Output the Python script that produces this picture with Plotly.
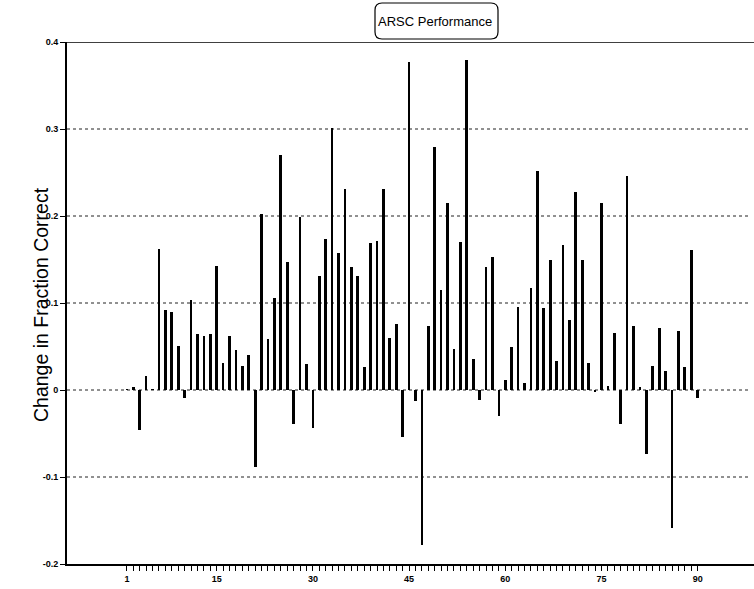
import plotly.graph_objects as go

questions = list(range(1, 91))
change = [
    0.001, 0.003, -0.046, 0.016, 0.001, 0.162, 0.092, 0.090, 0.051, -0.009,
    0.103, 0.064, 0.062, 0.064, 0.143, 0.031, 0.062, 0.046, 0.028, 0.040,
    -0.088, 0.202, 0.059, 0.106, 0.270, 0.147, -0.039, 0.199, 0.030, -0.044,
    0.131, 0.173, 0.301, 0.157, 0.231, 0.141, 0.131, 0.027, 0.169, 0.171,
    0.231, 0.060, 0.076, -0.054, 0.377, -0.013, -0.178, 0.074, 0.279, 0.115,
    0.215, 0.047, 0.170, 0.379, 0.036, -0.012, 0.141, 0.153, -0.030, 0.012,
    0.050, 0.095, 0.008, 0.117, 0.252, 0.094, 0.150, 0.033, 0.167, 0.080,
    0.228, 0.149, 0.031, -0.002, 0.215, 0.005, 0.066, -0.039, 0.246, 0.073,
    0.004, -0.074, 0.028, 0.071, 0.022, -0.159, 0.068, 0.026, 0.161, -0.009,
]
x_labeled = [1, 15, 30, 45, 60, 75, 90]
y_ticks = [0.4, 0.3, 0.2, 0.1, 0.0, -0.1, -0.2]
y_ticktext = ["0.4", "0.3", "0.2", "0.1", "0", "-0.1", "-0.2"]
title_text = "ARSC Performance"
y_title = "Change in Fraction Correct"

W, H = 754, 589
L, R, T, B = 67, 0, 42, 25
PW, PH = W - L - R, H - T - B

def px(x):
    return (x - L) / PW

def py(y):
    return (H - B - y) / PH

fig = go.Figure()
fig.add_trace(go.Bar(x=questions, y=change, width=0.42,
                     marker=dict(color="black", line=dict(width=0)),
                     showlegend=False))

# dotted grid lines
for v in y_ticks:
    if -0.2 < v < 0.4:
        fig.add_shape(type="line", xref="paper", yref="y", x0=0, x1=1, y0=v, y1=v,
                      line=dict(color="#222222", width=1, dash="dot"), layer="below")
# hide right frame edge (the reference plot runs off the right side)
fig.add_shape(type="rect", xref="paper", yref="paper", x0=px(W - 3), x1=px(W + 2),
              y0=py(H - B - 1), y1=py(T + 2), line=dict(width=0), fillcolor="white",
              layer="above")
# solid top frame line
fig.add_shape(type="line", xref="paper", yref="y", x0=0, x1=1, y0=0.4, y1=0.4,
              line=dict(color="black", width=1.5))

# rounded title box
x0, x1, y0, y1, r = 375, 498, 3, 39, 7
path = (f"M {px(x0+r)},{py(y0)} L {px(x1-r)},{py(y0)} Q {px(x1)},{py(y0)} {px(x1)},{py(y0+r)} "
        f"L {px(x1)},{py(y1-r)} Q {px(x1)},{py(y1)} {px(x1-r)},{py(y1)} "
        f"L {px(x0+r)},{py(y1)} Q {px(x0)},{py(y1)} {px(x0)},{py(y1-r)} "
        f"L {px(x0)},{py(y0+r)} Q {px(x0)},{py(y0)} {px(x0+r)},{py(y0)} Z")
fig.add_shape(type="path", xref="paper", yref="paper", path=path,
              line=dict(color="black", width=1.2), fillcolor="white")
fig.add_annotation(xref="paper", yref="paper", x=px(435), y=py(21), text=title_text,
                   showarrow=False,
                   font=dict(family="Liberation Sans, Arial", size=13, color="black"),
                   xanchor="center", yanchor="middle")
fig.add_annotation(xref="paper", yref="paper", x=px(41), y=py(305), text=y_title,
                   textangle=-90, showarrow=False,
                   font=dict(family="Liberation Sans, Arial", size=19.5, color="black"),
                   xanchor="center", yanchor="middle")

x_right = 1 + (W - R - 126.9) / 6.413
x_left = 1 + (L - 126.9) / 6.413
xticktext = [f"<b>{q}</b>" if q in x_labeled else "" for q in questions]
fig.update_xaxes(range=[x_left, x_right], tickmode="array", tickvals=questions, ticktext=xticktext,
                 ticks="outside", ticklen=5, tickwidth=1, tickcolor="black",
                 showline=True, linecolor="black", linewidth=1.5,
                 showgrid=False, zeroline=False,
                 tickfont=dict(family="Liberation Sans, Arial", size=9, color="black"))
fig.update_yaxes(range=[-0.2, 0.4], tickmode="array", tickvals=y_ticks,
                 ticktext=[f"<b>{t}</b>" for t in y_ticktext],
                 ticks="outside", ticklen=5, tickwidth=1, tickcolor="black",
                 showline=True, linecolor="black", linewidth=2,
                 showgrid=False, zeroline=False,
                 tickfont=dict(family="Liberation Sans, Arial", size=9, color="black"))
fig.update_layout(width=W, height=H, margin=dict(l=L, r=R, t=T, b=B),
                  plot_bgcolor="white", paper_bgcolor="white", bargap=0)
fig.write_html("out.html")
